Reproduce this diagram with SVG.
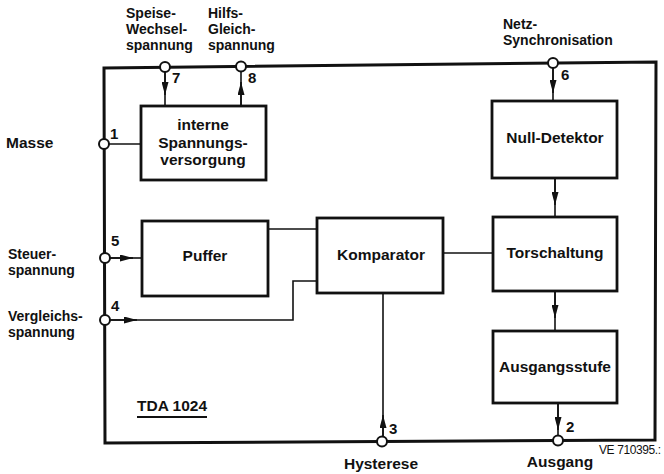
<svg xmlns="http://www.w3.org/2000/svg" width="664" height="474" viewBox="0 0 664 474">
<style>
text{font-family:"Liberation Sans",Arial,sans-serif;font-weight:bold;font-size:15.5px;fill:#111}
.c{text-anchor:middle}
.n{font-size:15px}
.l{font-size:14px}
.box{fill:#fff;stroke:#111;stroke-width:2.8}
.frame{fill:none;stroke:#111;stroke-width:3;stroke-linejoin:miter}
.w{fill:none;stroke:#111;stroke-width:1.6}
.pin{fill:#fff;stroke:#111;stroke-width:2}
</style>
<defs>
<marker id="ah" viewBox="0 0 13 7" markerWidth="13" markerHeight="7" refX="13" refY="3.5" orient="auto" markerUnits="userSpaceOnUse">
<path d="M0,0 L13,3.5 L0,7 Z" fill="#111"/>
</marker>
</defs>
<rect width="664" height="474" fill="#fff"/>

<g id="frame">
<path class="frame" d="M104,68 L656,62 L655,440 L105,443 Z"/>
</g>

<g id="connectors">
<path class="w" d="M165,72 V106"/>
<path class="w" d="M165,72 V95" marker-end="url(#ah)"/>
<path class="w" d="M241,106 V72"/>
<path class="w" d="M241,106 V82" marker-end="url(#ah)"/>
<path class="w" d="M108,144 H141"/>
<path class="w" d="M110,258 H142"/>
<path class="w" d="M110,258 H133" marker-end="url(#ah)"/>
<path class="w" d="M110,320 H293 V281 H317"/>
<path class="w" d="M110,320 H137" marker-end="url(#ah)"/>
<path class="w" d="M268,229 H317"/>
<path class="w" d="M443,253 H493"/>
<path class="w" d="M383,293 V436"/>
<path class="w" d="M383,436 V415" marker-end="url(#ah)"/>
<path class="w" d="M553,68 V101"/>
<path class="w" d="M553,68 V93" marker-end="url(#ah)"/>
<path class="w" d="M555,178 V217"/>
<path class="w" d="M555,178 V205" marker-end="url(#ah)"/>
<path class="w" d="M555,291 V331"/>
<path class="w" d="M555,291 V318" marker-end="url(#ah)"/>
<path class="w" d="M558,403 V435"/>
<path class="w" d="M558,403 V430" marker-end="url(#ah)"/>
</g>

<g id="pin7"><circle class="pin" cx="165" cy="67" r="5"/><text class="n" x="172" y="83">7</text>
<text class="l" x="126" y="18">Speise-</text><text class="l" x="126" y="34">Wechsel-</text><text class="l" x="126" y="50">spannung</text></g>
<g id="pin8"><circle class="pin" cx="241" cy="66.5" r="5"/><text class="n" x="248" y="83">8</text>
<text class="l" x="208" y="18">Hilfs-</text><text class="l" x="208" y="34">Gleich-</text><text class="l" x="208" y="50">spannung</text></g>
<g id="pin6"><circle class="pin" cx="553" cy="63" r="5"/><text class="n" x="561" y="80">6</text>
<text class="l" x="503" y="29">Netz-</text><text class="l" x="503" y="45">Synchronisation</text></g>
<g id="pin1"><circle class="pin" cx="104" cy="144" r="5"/><text class="n" x="110" y="139">1</text>
<text x="6" y="148">Masse</text></g>
<g id="pin5"><circle class="pin" cx="105" cy="258" r="5"/><text class="n" x="111" y="246">5</text>
<text class="l" x="8" y="259">Steuer-</text><text class="l" x="8" y="275">spannung</text></g>
<g id="pin4"><circle class="pin" cx="105" cy="320" r="5"/><text class="n" x="111" y="311">4</text>
<text class="l" x="8" y="321">Vergleichs-</text><text class="l" x="8" y="337">spannung</text></g>
<g id="pin3"><circle class="pin" cx="382" cy="441.5" r="5"/><text class="n" x="389" y="434">3</text>
<text class="c" x="381" y="469">Hysterese</text></g>
<g id="pin2"><circle class="pin" cx="558" cy="440.5" r="5"/><text class="n" x="566" y="432">2</text>
<text class="c" x="560" y="467">Ausgang</text></g>

<g id="versorgung"><rect class="box" x="141" y="106" width="125" height="74"/>
<text class="c" x="203" y="130">interne</text><text class="c" x="203" y="147.5">Spannungs-</text><text class="c" x="203" y="165">versorgung</text></g>
<g id="puffer"><rect class="box" x="142" y="221" width="126" height="75"/>
<text class="c" x="205" y="261">Puffer</text></g>
<g id="komparator"><rect class="box" x="317" y="218" width="126" height="75"/>
<text class="c" x="381" y="260">Komparator</text></g>
<g id="nulldetektor"><rect class="box" x="492" y="101" width="125" height="77"/>
<text class="c" x="555" y="143">Null-Detektor</text></g>
<g id="torschaltung"><rect class="box" x="493" y="217" width="124" height="74"/>
<text class="c" x="555" y="258">Torschaltung</text></g>
<g id="ausgangsstufe"><rect class="box" x="493" y="331" width="124" height="72"/>
<text class="c" x="555" y="372">Ausgangsstufe</text></g>

<g id="title"><text x="137" y="411" font-size="15">TDA 1024</text>
<line x1="137" y1="417" x2="207" y2="417" stroke="#111" stroke-width="1.8"/></g>
<text x="599" y="454" style="font-size:12px;font-weight:normal;letter-spacing:-0.4px">VE 710395.:</text>
</svg>
